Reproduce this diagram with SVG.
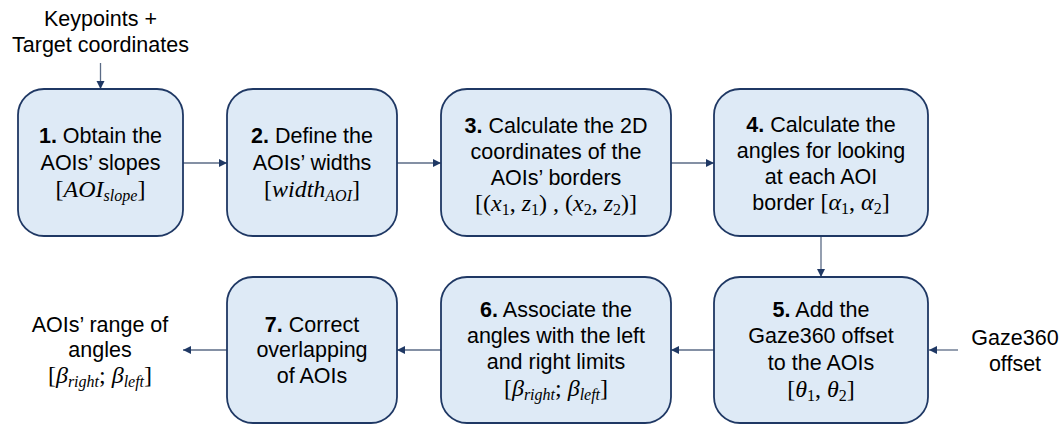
<svg xmlns="http://www.w3.org/2000/svg" width="1064" height="424" viewBox="0 0 1064 424">
<style>
.box{fill:#DEEAF6;stroke:#1F3864;stroke-width:1.8}
.t{font-family:"Liberation Sans",Arial,sans-serif;font-size:21.5px;fill:#000;text-anchor:middle}
.b{font-weight:bold}
.m{font-family:"Liberation Serif","Times New Roman",serif;font-size:24px;fill:#000;text-anchor:middle}
.i{font-style:italic}
.s{font-size:16px;font-style:italic}
.d{font-size:16px;font-style:normal}
.c{fill:none;stroke:#5B6B86;stroke-width:1.3}
</style>
<defs>
<marker id="ah" markerWidth="10" markerHeight="10" refX="9" refY="5" orient="auto" markerUnits="userSpaceOnUse">
<path d="M1,1 L9,5 L1,9 Z" fill="#1F3864"/>
</marker>
</defs>
<rect width="1064" height="424" fill="#fff"/>
<g id="connectors">
<line class="c" x1="100.5" y1="63" x2="100.5" y2="89" marker-end="url(#ah)"/>
<line class="c" x1="183" y1="163" x2="227" y2="163" marker-end="url(#ah)"/>
<line class="c" x1="397" y1="163" x2="441" y2="163" marker-end="url(#ah)"/>
<line class="c" x1="671" y1="163" x2="714" y2="163" marker-end="url(#ah)"/>
<line class="c" x1="821" y1="237" x2="821" y2="277" marker-end="url(#ah)"/>
<line class="c" x1="958" y1="350" x2="929" y2="350" marker-end="url(#ah)"/>
<line class="c" x1="714" y1="350" x2="671" y2="350" marker-end="url(#ah)"/>
<line class="c" x1="441" y1="350" x2="397" y2="350" marker-end="url(#ah)"/>
<line class="c" x1="227" y1="350" x2="183" y2="350" marker-end="url(#ah)"/>
</g>
<g id="input-keypoints">
<text class="t" x="100.5" y="26">Keypoints +</text>
<text class="t" x="100.5" y="52">Target coordinates</text>
</g>
<g id="input-gaze">
<text class="t" x="1015" y="345">Gaze360</text>
<text class="t" x="1015" y="371">offset</text>
</g>
<g id="output">
<text class="t" x="100" y="332">AOIs’ range of</text>
<text class="t" x="100" y="357">angles</text>
<text class="m" x="100" y="383">[<tspan class="i">β</tspan><tspan class="s" dy="4">right</tspan><tspan dy="-4">; </tspan><tspan class="i">β</tspan><tspan class="s" dy="4">left</tspan><tspan dy="-4">]</tspan></text>
</g>
<g id="node1">
<rect class="box" x="18" y="89" width="165" height="147" rx="26"/>
<text class="t" x="100.5" y="143"><tspan class="b">1.</tspan> Obtain the</text>
<text class="t" x="100.5" y="170">AOIs’ slopes</text>
<text class="m" x="100.5" y="197">[<tspan class="i">AOI</tspan><tspan class="s" dy="4">slope</tspan><tspan dy="-4">]</tspan></text>
</g>
<g id="node2">
<rect class="box" x="227" y="89" width="170" height="147" rx="26"/>
<text class="t" x="312" y="143"><tspan class="b">2.</tspan> Define the</text>
<text class="t" x="312" y="170">AOIs’ widths</text>
<text class="m" x="312" y="197">[<tspan class="i">width</tspan><tspan class="s" dy="4">AOI</tspan><tspan dy="-4">]</tspan></text>
</g>
<g id="node3">
<rect class="box" x="441" y="89" width="230" height="147" rx="26"/>
<text class="t" x="556" y="133"><tspan class="b">3.</tspan> Calculate the 2D</text>
<text class="t" x="556" y="159">coordinates of the</text>
<text class="t" x="556" y="185">AOIs’ borders</text>
<text class="m" x="556" y="211">[(<tspan class="i">x</tspan><tspan class="d" dy="4">1</tspan><tspan dy="-4">, </tspan><tspan class="i">z</tspan><tspan class="d" dy="4">1</tspan><tspan dy="-4">) , (</tspan><tspan class="i">x</tspan><tspan class="d" dy="4">2</tspan><tspan dy="-4">, </tspan><tspan class="i">z</tspan><tspan class="d" dy="4">2</tspan><tspan dy="-4">)]</tspan></text>
</g>
<g id="node4">
<rect class="box" x="714" y="89" width="214" height="147" rx="26"/>
<text class="t" x="821" y="132"><tspan class="b">4.</tspan> Calculate the</text>
<text class="t" x="821" y="158">angles for looking</text>
<text class="t" x="821" y="184">at each AOI</text>
<text class="t" x="821" y="210">border <tspan class="m" style="text-anchor:start">[<tspan class="i">α</tspan><tspan class="d" dy="4">1</tspan><tspan dy="-4">, </tspan><tspan class="i">α</tspan><tspan class="d" dy="4">2</tspan><tspan dy="-4">]</tspan></tspan></text>
</g>
<g id="node5">
<rect class="box" x="714" y="277" width="214" height="146" rx="26"/>
<text class="t" x="821" y="317"><tspan class="b">5.</tspan> Add the</text>
<text class="t" x="821" y="343">Gaze360 offset</text>
<text class="t" x="821" y="370">to the AOIs</text>
<text class="m" x="821" y="397">[<tspan class="i">θ</tspan><tspan class="d" dy="4">1</tspan><tspan dy="-4">, </tspan><tspan class="i">θ</tspan><tspan class="d" dy="4">2</tspan><tspan dy="-4">]</tspan></text>
</g>
<g id="node6">
<rect class="box" x="441" y="277" width="230" height="146" rx="26"/>
<text class="t" x="556" y="317"><tspan class="b">6.</tspan> Associate the</text>
<text class="t" x="556" y="343">angles with the left</text>
<text class="t" x="556" y="369">and right limits</text>
<text class="m" x="556" y="396">[<tspan class="i">β</tspan><tspan class="s" dy="4">right</tspan><tspan dy="-4">; </tspan><tspan class="i">β</tspan><tspan class="s" dy="4">left</tspan><tspan dy="-4">]</tspan></text>
</g>
<g id="node7">
<rect class="box" x="227" y="277" width="170" height="146" rx="26"/>
<text class="t" x="312" y="332"><tspan class="b">7.</tspan> Correct</text>
<text class="t" x="312" y="357">overlapping</text>
<text class="t" x="312" y="383">of AOIs</text>
</g>
</svg>
